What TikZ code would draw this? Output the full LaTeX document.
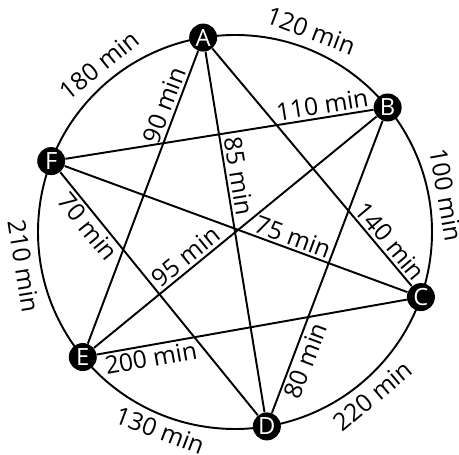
\documentclass[tikz,border=0pt]{standalone}
\usepackage{fontspec}
\setmainfont{Open Sans}
\usetikzlibrary{positioning,calc}

\begin{document}
\begin{tikzpicture}[x=0.02cm,y=0.02cm,
  stop/.style={circle,fill=black,text=white,minimum size=0.56cm,inner sep=0pt,font=\fontsize{13.5}{13.5}\selectfont},
  rd/.style={line width=1.1pt},
  tm/.style={font=\fontsize{14}{14}\selectfont,inner sep=1.5pt,sloped},
  arctm/.style={font=\fontsize{14}{14}\selectfont,inner sep=1.5pt}
]
\useasboundingbox (0,0) rectangle (459,455);
\coordinate (O) at (235,223);
\draw[rd] (O) circle (197);
% stops on the ring
\node[stop] (A) at ($(O)+(99.3:197)$) {A};
\node[stop] (B) at ($(O)+(39.2:197)$) {B};
\node[stop] (C) at ($(O)+(-19.3:197)$) {C};
\node[stop] (D) at ($(O)+(-80.7:197)$) {D};
\node[stop] (E) at ($(O)+(-140.6:197)$) {E};
\node[stop] (F) at ($(O)+(158.9:197)$) {F};
% chords
\draw[rd] (A) -- node[tm,above,pos=0.2]  {90 min}  (E);
\draw[rd] (A) -- node[tm,above,pos=0.35] {85 min}  (D);
\draw[rd] (A) -- node[tm,above,pos=0.845]{140 min} (C);
\draw[rd] (F) -- node[tm,above,pos=0.84] {110 min} (B);
\draw[rd] (E) -- node[tm,above,pos=0.353]{95 min}  (B);
\draw[rd] (F) -- node[tm,above,pos=0.653]{75 min}  (C);
\draw[rd] (F) -- node[tm,below,pos=0.19] {70 min}  (D);
\draw[rd] (B) -- node[tm,below,pos=0.805]{80 min}  (D);
\draw[rd] (E) -- node[tm,below,pos=0.167]{200 min} (C);
% ring labels
\node[arctm,anchor=south,rotate=-20.7] at ($(O)+(69.3:203)$)  {120 min};
\node[arctm,anchor=south,rotate=-80]   at ($(O)+(10:202)$)    {100 min};
\node[arctm,anchor=north,rotate=40]    at ($(O)+(-50:202)$)   {220 min};
\node[arctm,anchor=north,rotate=-20.7] at ($(O)+(-110.7:200)$){130 min};
\node[arctm,anchor=north,rotate=-80.8] at ($(O)+(189.2:202)$) {210 min};
\node[arctm,anchor=south,rotate=39.1]  at ($(O)+(129.1:203)$) {180 min};
\end{tikzpicture}
\end{document}
